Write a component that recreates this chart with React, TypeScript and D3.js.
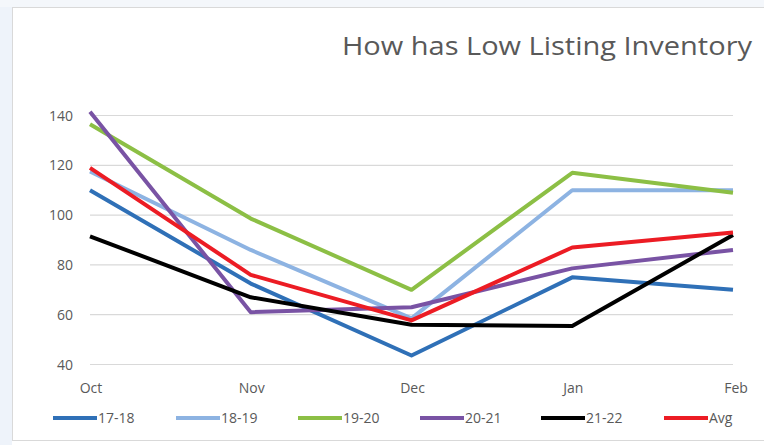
import React from "react";
import * as d3 from "d3";

const months = ["Oct", "Nov", "Dec", "Jan", "Feb"];
const yTicks = [40, 60, 80, 100, 120, 140];
const s1718 = [110, 72.5, 43.6, 75, 70];
const s1819 = [117.5, 86, 58.5, 110, 110];
const s1920 = [136.5, 98.6, 70, 117, 109];
const s2021 = [141.5, 61, 63, 78.6, 86];
const s2122 = [91.5, 67, 56, 55.5, 92];
const sAvg = [119, 76, 57.7, 87, 93];
const seriesNames = ["17-18", "18-19", "19-20", "20-21", "21-22", "Avg"];
const seriesValues = [s1718, s1819, s1920, s2021, s2122, sAvg];
const colors = ["#2F70B7", "#8DB3E2", "#8CBF45", "#7953A4", "#000000", "#EC1C24"];
const title = "How has Low Listing Inventory";

const W = 764, H = 445;
const FONT = "'Liberation Sans Narrow', 'Arial Narrow', 'Open Sans', sans-serif";

export default function App() {
  const x = d3.scalePoint<string>().domain(months).range([90, 733]);
  const y = d3.scaleLinear().domain([40, 140]).range([364.5, 115.5]);
  const line = d3.line<number>().x((_, i) => x(months[i]) as number).y((v) => y(v));
  const legendX = [53, 176, 298, 420, 541, 664];
  return (
    <div style={{ position: "fixed", left: 0, top: 0 }}>
      <svg width={W} height={H} style={{ display: "block" }}>
        <rect x={0} y={0} width={W} height={H} fill="#ffffff" />
        <rect x={0} y={0} width={12} height={H} fill="#EEF3FA" />
        <rect x={0} y={0} width={W} height={7} fill="#F4F7FB" />
        <rect x={12.5} y={7.5} width={W + 10} height={433} fill="#ffffff" stroke="#D9D9D9" />
        <text x={752} y={55} textAnchor="end" fontFamily="'Open Sans', sans-serif" fontSize={25} fill="#595959" textLength={410} lengthAdjust="spacingAndGlyphs">{title}</text>
        {yTicks.map((t) => (
          <g key={t}>
            <line x1={90} x2={733} y1={y(t)} y2={y(t)} stroke="#D9D9D9" strokeWidth={1.2} />
            <text x={73} y={y(t) + 5} textAnchor="end" fontFamily={FONT} fontSize={14} fill="#595959">{t}</text>
          </g>
        ))}
        {months.map((m) => (
          <text key={m} x={(x(m) as number) + (m === "Feb" ? 3 : 1)} y={393} textAnchor="middle" fontFamily={FONT} fontSize={14} fill="#595959">{m}</text>
        ))}
        {seriesValues.map((vals, i) => (
          <path key={i} d={line(vals) || ""} fill="none" stroke={colors[i]} strokeWidth={4} strokeLinejoin="round" />
        ))}
        {seriesNames.map((n, i) => (
          <g key={n}>
            <line x1={legendX[i]} x2={legendX[i] + 44} y1={418} y2={418} stroke={colors[i]} strokeWidth={4} />
            <text x={legendX[i] + 45} y={423} fontFamily={FONT} fontSize={14} fill="#595959">{n}</text>
          </g>
        ))}
      </svg>
    </div>
  );
}
